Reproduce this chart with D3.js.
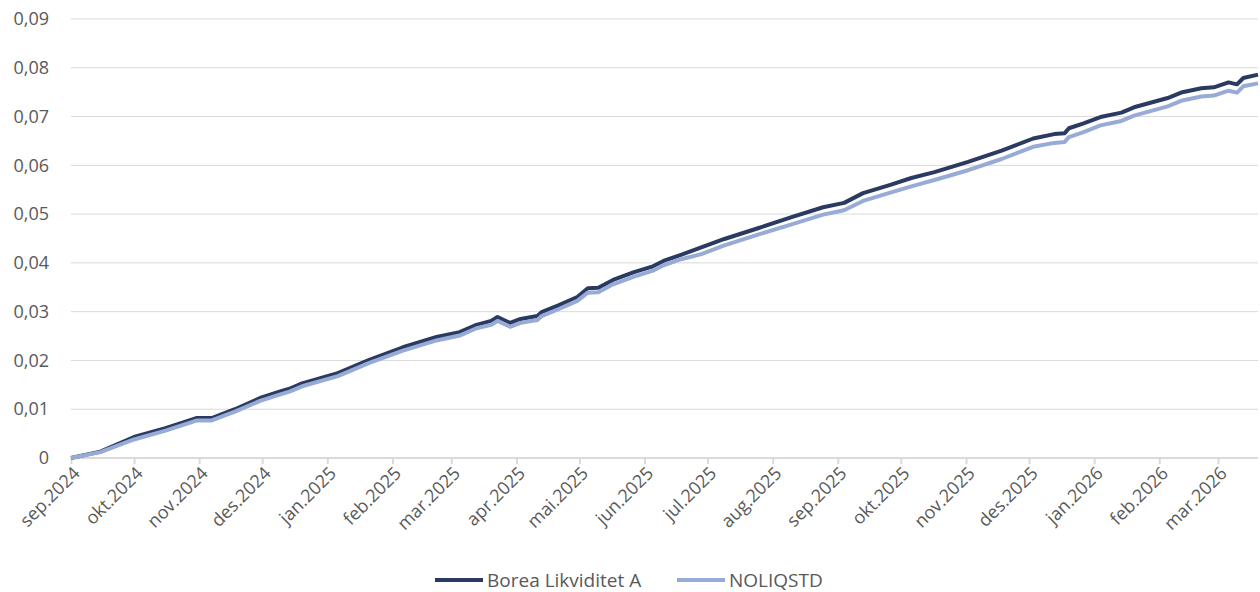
<!DOCTYPE html>
<html>
<head>
<meta charset="utf-8">
<script src="https://cdn.jsdelivr.net/npm/d3@7"></script>
<style>
  body { margin: 0; background: #fff; }
  text { font-family: "Open Sans", sans-serif; fill: #595959; }
</style>
</head>
<body>
<div id="chart"></div>
<script>
// dates and values
var dates = ["2024-09-01","2024-09-15","2024-10-01","2024-10-16","2024-10-31","2024-11-07","2024-11-18","2024-11-30",
  "2024-12-10","2024-12-14","2024-12-20","2025-01-06","2025-01-21","2025-02-06","2025-02-22","2025-03-05",
  "2025-03-13","2025-03-20","2025-03-23","2025-03-29","2025-04-03","2025-04-11","2025-04-13","2025-04-21",
  "2025-04-30","2025-05-05","2025-05-10","2025-05-17","2025-05-27","2025-06-05","2025-06-10","2025-06-18",
  "2025-06-28","2025-07-09","2025-07-25","2025-08-10","2025-08-25","2025-09-04","2025-09-13","2025-09-26",
  "2025-10-06","2025-10-17","2025-11-02","2025-11-18","2025-12-03","2025-12-13","2025-12-18","2025-12-20",
  "2025-12-27","2026-01-04","2026-01-14","2026-01-20","2026-02-05","2026-02-12","2026-02-21","2026-02-27",
  "2026-03-06","2026-03-10","2026-03-13","2026-03-20"];

var borea = [0, 0.0013, 0.0043, 0.0061, 0.0082, 0.0082, 0.0100, 0.0123,
  0.0137, 0.0142, 0.0153, 0.0174, 0.0201, 0.0227, 0.0248, 0.0258,
  0.0273, 0.0281, 0.0289, 0.0277, 0.0285, 0.0291, 0.0299, 0.0313,
  0.0330, 0.0348, 0.0349, 0.0365, 0.0381, 0.0393, 0.0404, 0.0416,
  0.0432, 0.0449, 0.0471, 0.0494, 0.0514, 0.0523, 0.0543, 0.0560,
  0.0574, 0.0586, 0.0607, 0.0630, 0.0655, 0.0664, 0.0666, 0.0676,
  0.0686, 0.0699, 0.0708, 0.0719, 0.0738, 0.0750, 0.0758, 0.0760,
  0.0770, 0.0766, 0.0779, 0.0786];

var noliq = [0, 0.0012, 0.0038, 0.0056, 0.0077, 0.0077, 0.0095, 0.0117,
  0.0131, 0.0136, 0.0147, 0.0168, 0.0195, 0.0220, 0.0241, 0.0251,
  0.0266, 0.0273, 0.0281, 0.0269, 0.0277, 0.0283, 0.0291, 0.0305,
  0.0322, 0.0339, 0.0340, 0.0356, 0.0372, 0.0384, 0.0395, 0.0407,
  0.0418, 0.0436, 0.0458, 0.0479, 0.0499, 0.0508, 0.0527, 0.0544,
  0.0557, 0.0570, 0.0590, 0.0613, 0.0638, 0.0646, 0.0648, 0.0658,
  0.0668, 0.0682, 0.0691, 0.0702, 0.0721, 0.0733, 0.0741, 0.0743,
  0.0753, 0.0749, 0.0762, 0.0768];

var yTicks = [0, 0.01, 0.02, 0.03, 0.04, 0.05, 0.06, 0.07, 0.08, 0.09];
var monthNames = ["jan","feb","mar","apr","mai","jun","jul","aug","sep","okt","nov","des"];
var seriesNames = ["Borea Likviditet A", "NOLIQSTD"];
var colors = ["#2a3a60", "#97abd6"];

var svgWidth = 1260;
var svgHeight = 592;
var margin = { top: 19, right: 2, bottom: 134, left: 71 };
var width = svgWidth - margin.left - margin.right;
var height = svgHeight - margin.top - margin.bottom;

var svg = d3.select("#chart")
  .append("svg")
  .attr("width", svgWidth)
  .attr("height", svgHeight);

var chartGroup = svg.append("g")
  .attr("transform", `translate(${margin.left}, ${margin.top})`);

var parse = d3.timeParse("%Y-%m-%d");
var xDates = dates.map(parse);

var xScale = d3.scaleTime()
  .domain([xDates[0], xDates[xDates.length - 1]])
  .range([0, width]);

var yScale = d3.scaleLinear()
  .domain([0, 0.09])
  .range([height, 0]);

// gridlines
chartGroup.selectAll(".grid")
  .data(yTicks.slice(1))
  .enter()
  .append("line")
  .attr("x1", 0)
  .attr("x2", width)
  .attr("y1", d => yScale(d))
  .attr("y2", d => yScale(d))
  .attr("stroke", "#d9d9d9")
  .attr("stroke-width", 1);

// y axis labels
var leftAxis = d3.axisLeft(yScale)
  .tickValues(yTicks)
  .tickSize(0)
  .tickPadding(22)
  .tickFormat(d => d === 0 ? "0" : d3.format(".2f")(d).replace(".", ","));

chartGroup.append("g")
  .call(leftAxis)
  .call(g => g.select(".domain").remove())
  .selectAll("text")
  .style("font-size", "18px")
  .attr("fill", "#595959");

// x axis
var monthTicks = d3.timeMonth.range(xDates[0], xDates[xDates.length - 1]);
var bottomAxis = d3.axisBottom(xScale)
  .tickValues(monthTicks)
  .tickSize(6)
  .tickFormat(d => monthNames[d.getMonth()] + "." + d.getFullYear());

var xAxis = chartGroup.append("g")
  .attr("transform", `translate(0, ${height})`)
  .call(bottomAxis);

xAxis.select(".domain")
  .attr("stroke", "#d9d9d9")
  .attr("stroke-width", 2)
  .attr("d", `M0,0H${width}`);
xAxis.selectAll(".tick line")
  .attr("stroke", "#d9d9d9")
  .attr("stroke-width", 2);
xAxis.selectAll(".tick text")
  .style("font-size", "18px")
  .attr("fill", "#595959")
  .attr("text-anchor", "end")
  .attr("transform", "translate(5,12) rotate(-45)")
  .attr("dy", "0.35em")
  .attr("y", 0)
  .attr("x", 0);

// lines
var lineData = [borea, noliq];
var line = d3.line()
  .x((d, i) => xScale(xDates[i]))
  .y(d => yScale(d));

chartGroup.selectAll(".series")
  .data(lineData)
  .enter()
  .append("path")
  .attr("fill", "none")
  .attr("stroke", (d, i) => colors[i])
  .attr("stroke-width", 4)
  .attr("stroke-linejoin", "round")
  .attr("d", d => line(d));

// legend
var legend = svg.append("g")
  .attr("transform", "translate(435, 580)");
var legendX = [0, 242];
seriesNames.forEach(function(name, i) {
  legend.append("line")
    .attr("x1", legendX[i])
    .attr("x2", legendX[i] + 48)
    .attr("y1", 0)
    .attr("y2", 0)
    .attr("stroke", colors[i])
    .attr("stroke-width", 4);
  legend.append("text")
    .attr("x", legendX[i] + 52)
    .attr("y", 0)
    .attr("dy", "0.35em")
    .style("font-size", "19px")
    .text(name);
});
</script>
</body>
</html>
